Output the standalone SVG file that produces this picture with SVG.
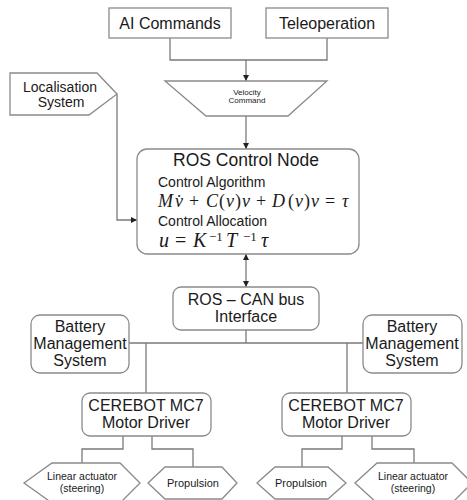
<svg xmlns="http://www.w3.org/2000/svg" width="467" height="500" viewBox="0 0 467 500">
<defs>
<style>
.box{fill:#fff;stroke:#8a8a8a;stroke-width:1.3}
.ln{fill:none;stroke:#7a7a7a;stroke-width:1.3}
.t{font-family:"Liberation Sans",Arial,sans-serif;fill:#1a1a1a;text-anchor:middle}
.tl{font-family:"Liberation Sans",Arial,sans-serif;fill:#1a1a1a}
.m{font-family:"Liberation Serif","DejaVu Serif",serif;fill:#1a1a1a}
.i{font-style:italic}
</style>
<marker id="ah" viewBox="0 0 10 10" refX="10" refY="5" markerWidth="6" markerHeight="6" orient="auto-start-reverse" markerUnits="userSpaceOnUse">
<path d="M0,0 L10,5 L0,10 z" fill="#222"/>
</marker>
</defs>
<rect width="467" height="500" fill="#fff"/>

<g id="connectors">
<path class="ln" d="M170,38 V60 H327 V38"/>
<path class="ln" d="M246,60 V81" marker-end="url(#ah)"/>
<path class="ln" d="M246,116 V149" marker-end="url(#ah)"/>
<path class="ln" d="M117,94 V220 H137" marker-end="url(#ah)"/>
<path class="ln" d="M246,254 V287" marker-start="url(#ah)" marker-end="url(#ah)"/>
<path class="ln" d="M246,330 V343 M129,343 H363 M146,343 V393 M347,343 V393"/>
<path class="ln" d="M123,436 V449 H82 V463 M152,436 V449 H193 V467"/>
<path class="ln" d="M342,436 V449 H302 V467 M372,436 V449 H414 V463"/>
</g>

<g id="ai-commands">
<rect class="box" x="109" y="8" width="122" height="30"/>
<text class="t" x="170" y="29" font-size="16">AI Commands</text>
</g>
<g id="teleoperation">
<rect class="box" x="266" y="8" width="122" height="30"/>
<text class="t" x="327" y="29" font-size="16">Teleoperation</text>
</g>
<g id="velocity-command">
<polygon class="box" points="165,81 327,81 288,116 206,116"/>
<text class="t" x="247" y="95" font-size="8">Velocity</text>
<text class="t" x="247" y="103" font-size="8">Command</text>
</g>
<g id="localisation">
<polygon class="box" points="10,73 97,73 117,94 89,115 10,115"/>
<text class="t" x="60" y="92" font-size="14">Localisation</text>
<text class="t" x="61" y="107" font-size="14">System</text>
</g>
<g id="ros-control-node">
<rect class="box" x="137" y="149" width="222" height="105" rx="10"/>
<text class="t" x="246" y="166" font-size="17.5">ROS Control Node</text>
<text class="tl" x="158" y="187" font-size="14">Control Algorithm</text>
<text class="m" y="207" font-size="18"><tspan class="i" x="158">M</tspan><tspan class="i" x="175">v̇</tspan><tspan x="189">+</tspan><tspan class="i" x="206">C</tspan><tspan x="219">(</tspan><tspan class="i" x="226">v</tspan><tspan x="235">)</tspan><tspan class="i" x="242">v</tspan><tspan x="256">+</tspan><tspan class="i" x="272">D</tspan><tspan x="288">(</tspan><tspan class="i" x="295">v</tspan><tspan x="304">)</tspan><tspan class="i" x="311">v</tspan><tspan x="325">=</tspan><tspan class="i" x="342">τ</tspan></text>
<text class="tl" x="158" y="226" font-size="14">Control Allocation</text>
<text class="m" y="247" font-size="20"><tspan class="i" x="159">u</tspan><tspan x="175">=</tspan><tspan class="i" x="193">K</tspan><tspan font-size="13" x="209" y="241">−1</tspan><tspan class="i" x="226" y="247">T</tspan><tspan font-size="13" x="243" y="241">−1</tspan><tspan class="i" x="261" y="247">τ</tspan></text>
</g>
<g id="ros-can">
<rect class="box" x="173" y="287" width="146" height="43" rx="8"/>
<text class="t" x="246" y="305" font-size="16">ROS – CAN bus</text>
<text class="t" x="246" y="322" font-size="16">Interface</text>
</g>
<g id="battery-left">
<rect class="box" x="31" y="315" width="98" height="58" rx="9"/>
<text class="t" x="80" y="332" font-size="16">Battery</text>
<text class="t" x="80" y="349" font-size="16">Management</text>
<text class="t" x="80" y="366" font-size="16">System</text>
</g>
<g id="battery-right">
<rect class="box" x="363" y="315" width="99" height="58" rx="9"/>
<text class="t" x="412" y="332" font-size="16">Battery</text>
<text class="t" x="412" y="349" font-size="16">Management</text>
<text class="t" x="412" y="366" font-size="16">System</text>
</g>
<g id="driver-left">
<rect class="box" x="82" y="393" width="129" height="43" rx="8"/>
<text class="t" x="146" y="411" font-size="16">CEREBOT MC7</text>
<text class="t" x="146" y="428" font-size="16">Motor Driver</text>
</g>
<g id="driver-right">
<rect class="box" x="282" y="393" width="129" height="43" rx="8"/>
<text class="t" x="346" y="411" font-size="16">CEREBOT MC7</text>
<text class="t" x="346" y="428" font-size="16">Motor Driver</text>
</g>
<g id="actuator-left">
<polygon class="box" points="24,483 52,463 120,463 140,483 120,503 52,503"/>
<text class="t" x="82" y="480" font-size="10.5">Linear actuator</text>
<text class="t" x="82" y="492" font-size="10.5">(steering)</text>
</g>
<g id="propulsion-left">
<polygon class="box" points="148,483 165,467 222,467 237,483 222,499 165,499"/>
<text class="t" x="193" y="487" font-size="11">Propulsion</text>
</g>
<g id="propulsion-right">
<polygon class="box" points="257,483 275,467 328,467 346,483 328,499 275,499"/>
<text class="t" x="301" y="487" font-size="11">Propulsion</text>
</g>
<g id="actuator-right">
<polygon class="box" points="355,483 377,463 452,463 472,483 452,503 377,503"/>
<text class="t" x="413" y="480" font-size="10.5">Linear actuator</text>
<text class="t" x="413" y="492" font-size="10.5">(steering)</text>
</g>
</svg>
